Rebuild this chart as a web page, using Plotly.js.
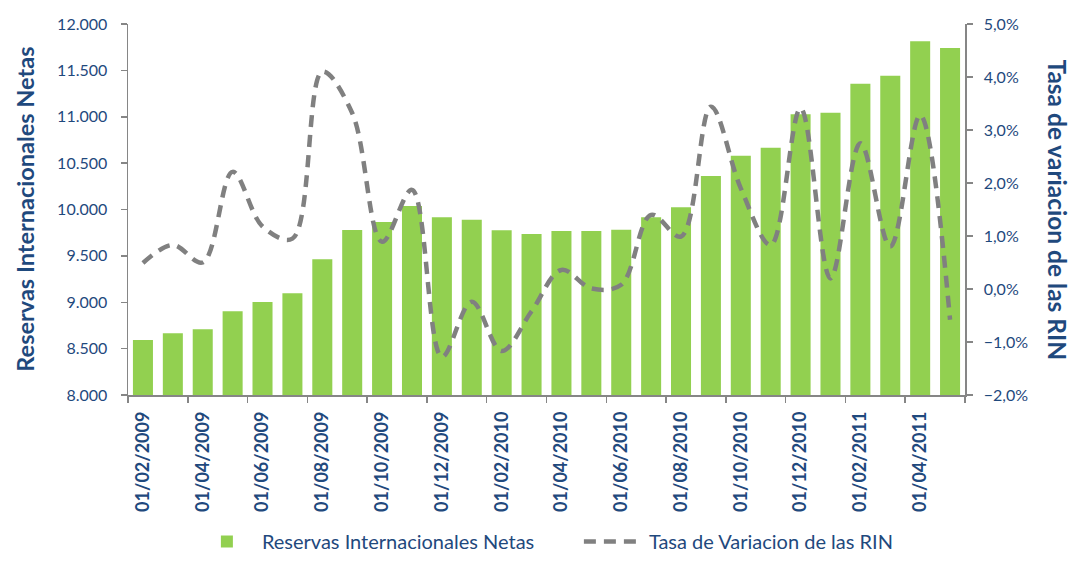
<!DOCTYPE html>
<html>
<head>
<meta charset="utf-8">
<script src="https://cdn.plot.ly/plotly-3.0.1.min.js"></script>
<style>
  html, body { margin: 0; padding: 0; background: #ffffff; }
  #chart { width: 1072px; height: 561px; }
</style>
</head>
<body>
<div id="chart"></div>
<script>
// Months (categories)
const months = [
  "01/02/2009","01/03/2009","01/04/2009","01/05/2009","01/06/2009","01/07/2009",
  "01/08/2009","01/09/2009","01/10/2009","01/11/2009","01/12/2009","01/01/2010",
  "01/02/2010","01/03/2010","01/04/2010","01/05/2010","01/06/2010","01/07/2010",
  "01/08/2010","01/09/2010","01/10/2010","01/11/2010","01/12/2010","01/01/2011",
  "01/02/2011","01/03/2011","01/04/2011","01/05/2011"
];

// Tick labels shown on the x axis (every second month)
const tickLabels = [
  "01/02/2009","01/04/2009","01/06/2009","01/08/2009","01/10/2009","01/12/2009",
  "01/02/2010","01/04/2010","01/06/2010","01/08/2010","01/10/2010","01/12/2010",
  "01/02/2011","01/04/2011"
];

// Reservas Internacionales Netas (left axis)
const reservas = [
  8593, 8665, 8708, 8902, 9003, 9096,
  9463, 9779, 9865, 10038, 9916, 9890,
  9776, 9736, 9768, 9768, 9782, 9916,
  10024, 10361, 10580, 10667, 11026, 11044,
  11356, 11443, 11813, 11741
];

// Tasa de Variacion de las RIN (right axis, fraction)
const tasa = [
  0.0049, 0.0083, 0.0050, 0.0221, 0.0118, 0.0095,
  0.0410, 0.0332, 0.0089, 0.0187, -0.0128, -0.0024,
  -0.0117, -0.0042, 0.0036, 0.0001, 0.0008, 0.0140,
  0.0099, 0.0344, 0.0190, 0.0083, 0.0341, 0.0020,
  0.0275, 0.0080, 0.0328, -0.0058
];

const textColor = "#1F497D";
const axisColor = "#868686";
const fontFamily = "Lato, 'Open Sans', sans-serif";

// category index of each month (bars use the numeric axis that carries the boundary ticks)
const monthIndex = months.map((m, i) => i);

const traces = [
  {
    type: "bar",
    name: "Reservas Internacionales Netas",
    x: monthIndex,
    y: reservas,
    marker: { color: "#92D050" },
    xaxis: "x",
    yaxis: "y"
  },
  {
    type: "scatter",
    mode: "lines",
    name: "Tasa de Variacion de las RIN",
    x: months,
    y: tasa,
    xaxis: "x2",
    yaxis: "y2",
    line: { color: "#808080", width: 4.5, dash: "12px,8px", shape: "spline", smoothing: 1 }
  }
];

const layout = {
  width: 1072,
  height: 561,
  paper_bgcolor: "#ffffff",
  plot_bgcolor: "#ffffff",
  separators: ",.",
  margin: { l: 128, r: 107, t: 24, b: 166 },
  bargap: 0.33,
  font: { family: fontFamily, color: textColor, size: 16 },
  showlegend: true,
  legend: {
    orientation: "h",
    xref: "container", yref: "container",
    x: 0.179, xanchor: "left",
    y: -0.014, yanchor: "bottom",
    font: { size: 20, color: textColor, family: fontFamily },
    itemwidth: 60,
    entrywidth: 312,
    traceorder: "normal"
  },
  // numeric axis: tick marks at category boundaries, every two months
  xaxis: {
    type: "linear",
    automargin: false,
    range: [-0.5, 27.5],
    tickmode: "linear", tick0: -0.5, dtick: 2,
    ticks: "outside", ticklen: 6, tickcolor: axisColor, tickwidth: 1.5,
    showticklabels: false,
    showline: true, linecolor: axisColor, linewidth: 1.5,
    showgrid: false, zeroline: false
  },
  // category axis: the date labels
  xaxis2: {
    type: "category",
    overlaying: "x",
    anchor: "y",
    side: "bottom",
    automargin: false,
    range: [-0.5, 27.5],
    ticks: "",
    tickmode: "array",
    tickvals: tickLabels,
    ticktext: tickLabels.map(t => "<b>" + t + "</b>"),
    tickangle: -90,
    ticklabelstandoff: 12,
    tickfont: { size: 18, color: textColor, family: fontFamily, weight: 700 },
    showline: false, showgrid: false, zeroline: false
  },
  yaxis: {
    automargin: false,
    range: [8000, 12000],
    dtick: 500,
    tickformat: ",d",
    showline: true, linecolor: axisColor, linewidth: 1.5,
    ticks: "outside", ticklen: 6, tickcolor: axisColor, tickwidth: 1.5,
    ticklabelstandoff: 10,
    showgrid: false, zeroline: false,
    tickfont: { size: 16, color: textColor, family: fontFamily }
  },
  yaxis2: {
    automargin: false,
    overlaying: "y",
    side: "right",
    anchor: "x",
    range: [-0.02, 0.05],
    dtick: 0.01,
    tickformat: ".1%",
    showline: true, linecolor: axisColor, linewidth: 1.5,
    ticks: "outside", ticklen: 6, tickcolor: axisColor, tickwidth: 1.5,
    ticklabelstandoff: 8,
    showgrid: false, zeroline: false,
    tickfont: { size: 16, color: textColor, family: fontFamily }
  },
  annotations: [
    {
      text: "Reservas Internacionales Netas",
      textangle: -90,
      xref: "paper", yref: "paper",
      x: -0.124, y: 0.5,
      xanchor: "center", yanchor: "middle",
      showarrow: false,
      font: { size: 23.5, color: textColor, family: fontFamily, weight: 700 }
    },
    {
      text: "Tasa de variacion de las RIN",
      textangle: 90,
      xref: "paper", yref: "paper",
      x: 1.11, y: 0.5,
      xanchor: "center", yanchor: "middle",
      showarrow: false,
      font: { size: 24.5, color: textColor, family: fontFamily, weight: 700 }
    }
  ]
};

Plotly.newPlot("chart", traces, layout, { displayModeBar: false, staticPlot: true });
</script>
</body>
</html>
